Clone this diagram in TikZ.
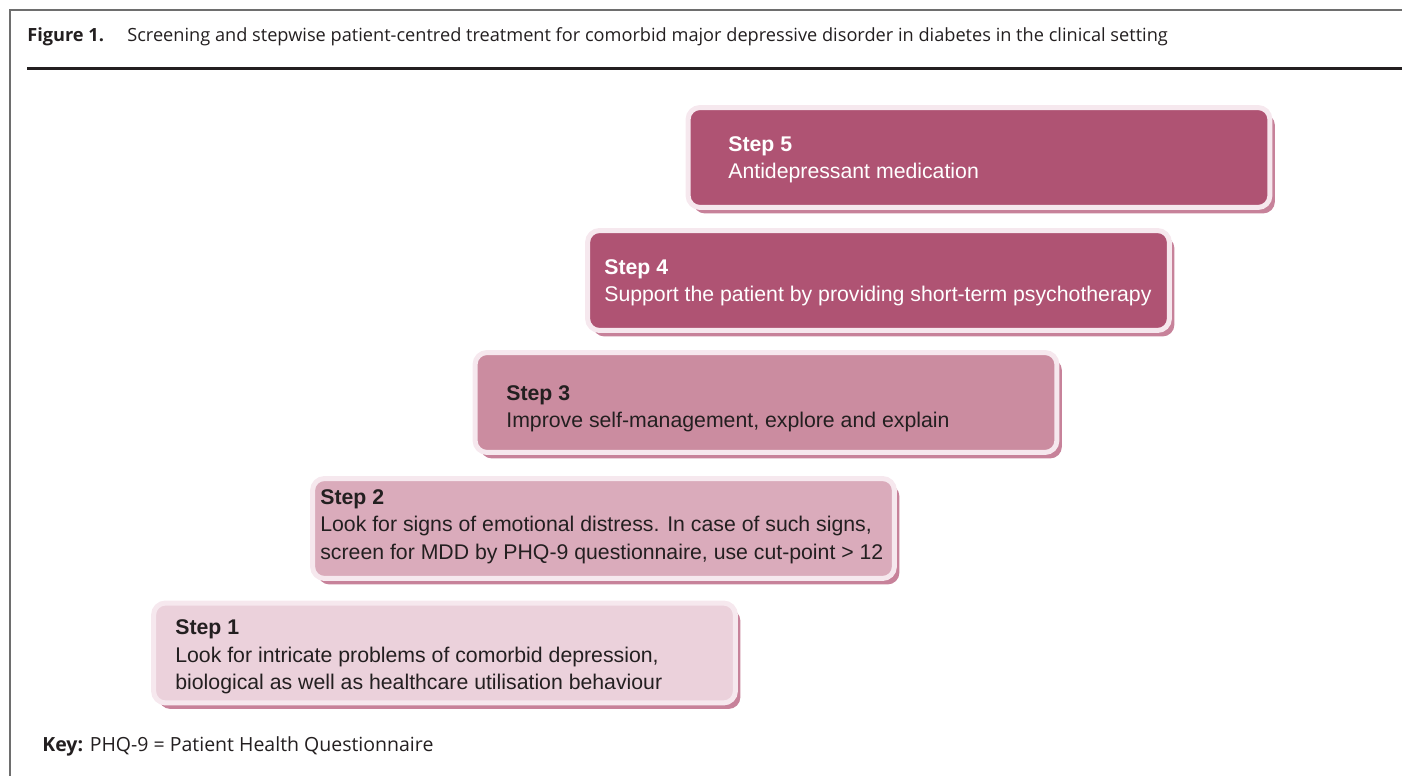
\documentclass[tikz,border=0pt]{standalone}
\usepackage{fontspec}
\setmainfont{Liberation Sans}
\newfontfamily\capfont{Open Sans}
\usepackage{tikz}
\usetikzlibrary{shadows}

\definecolor{stepfive}{HTML}{AF5373}
\definecolor{stepthree}{HTML}{CB8CA0}
\definecolor{steptwo}{HTML}{DAABBB}
\definecolor{stepone}{HTML}{EBD1DB}
\definecolor{steprim}{HTML}{F6E8EE}
\definecolor{stepshade}{HTML}{C7829A}
\definecolor{stepink}{HTML}{231F20}
\definecolor{framegrey}{HTML}{6E6E6E}

\begin{document}
\begin{tikzpicture}[
        x=0.02cm, y=-0.02cm,
        every node/.style={inner sep=0pt},
        stepbox/.style={draw=steprim, line width=0.1cm, rounded corners=0.24cm,
                        minimum width=11.64cm, minimum height=2cm,
                        general shadow={fill=stepshade, shadow xshift=0.1cm, shadow yshift=-0.12cm}},
        steptext/.style={anchor=west, align=left, text=stepink,
                         font=\fontsize{12.1}{15.6}\selectfont},
        captext/.style={anchor=base west, text=stepink, font=\capfont\fontsize{10.35}{12}\selectfont},
        frame/.style={draw=framegrey, line width=0.04cm}
    ]
        \useasboundingbox (0,0) rectangle (1407,776);

        % frame and caption
        \coordinate (ftop) at (10,10);
        \coordinate (fbot) at (10,776);
        \coordinate (fend) at (1402,10);
        \draw[frame] (fbot) -- (ftop) -- (fend);
        \coordinate (rl) at (27,69);
        \coordinate (rr) at (1402,69);
        \draw[stepink, line width=0.06cm] (rl) -- (rr);
        \node[captext] (fig) at (27,42) {\bfseries Figure 1.};
        \node[captext] (cap) at (127,42) {Screening and stepwise patient-centred treatment for comorbid major depressive disorder in diabetes in the clinical setting};

        % steps
        \node[stepbox, fill=stepfive]  (s5) at (979,157.5) {};
        \node[stepbox, fill=stepfive]  (s4) at (878.5,280.5) {};
        \node[stepbox, fill=stepthree] (s3) at (766,402.5) {};
        \node[stepbox, fill=steptwo]   (s2) at (603.5,528.5) {};
        \node[stepbox, fill=stepone]   (s1) at (444.5,653) {};

        \node[steptext, text=white] (t5) at (728,160) {\textbf{Step 5}\\Antidepressant medication};
        \node[steptext, text=white] (t4) at (604,282.5) {\textbf{Step 4}\\Support the patient by providing short-term psychotherapy};
        \node[steptext] (t3) at (506,408.5) {\textbf{Step 3}\\Improve self-management, explore and explain};
        \node[steptext] (t2) at (320,526.5) {\textbf{Step 2}\\Look for signs of emotional distress. In case of such signs,\\screen for MDD by PHQ-9 questionnaire, use cut-point > 12};
        \node[steptext] (t1) at (175,657) {\textbf{Step 1}\\Look for intricate problems of comorbid depression,\\biological as well as healthcare utilisation behaviour};

        % key
        \node[captext, font=\capfont\fontsize{11.1}{13}\selectfont] (key) at (42,751) {\textbf{Key:} PHQ-9 = Patient Health Questionnaire};
    \end{tikzpicture}
\end{document}
